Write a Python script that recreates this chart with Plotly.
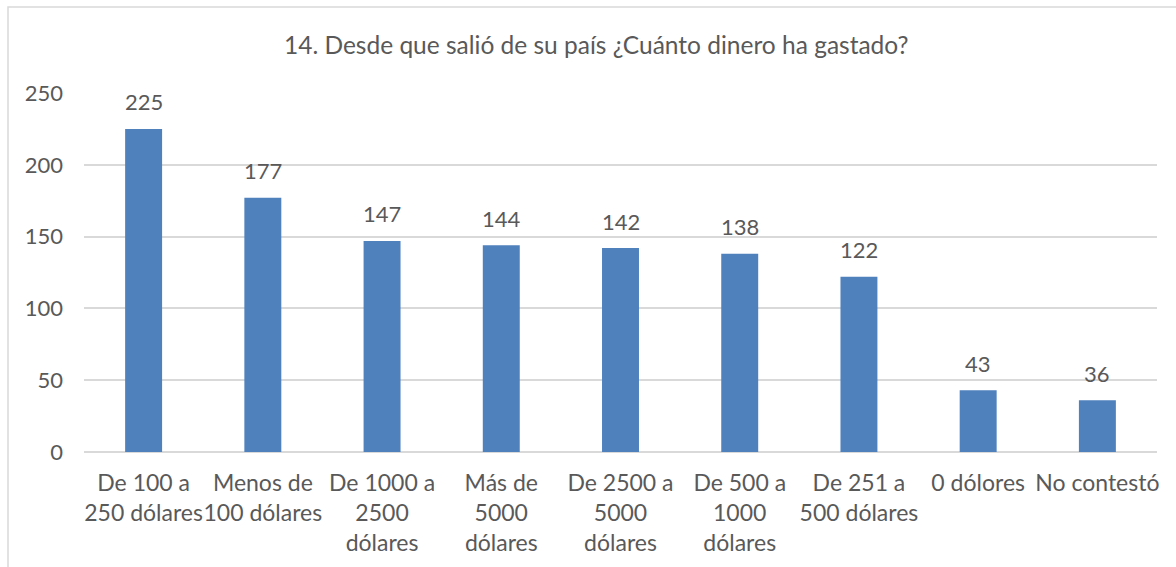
import plotly.graph_objects as go

# Survey responses: money spent since leaving home country
categories = [
    "De 100 a<br>250 dólares",
    "Menos de<br>100 dólares",
    "De 1000 a<br>2500<br>dólares",
    "Más de<br>5000<br>dólares",
    "De 2500 a<br>5000<br>dólares",
    "De 500 a<br>1000<br>dólares",
    "De 251 a<br>500 dólares",
    "0 dólores",
    "No contestó",
]
counts = [225, 177, 147, 144, 142, 138, 122, 43, 36]

title_text = "14. Desde que salió de su país ¿Cuánto dinero ha gastado?"

FONT = "Lato"
TEXT_COLOR = "#595959"
BAR_COLOR = "#4F81BD"
GRID_COLOR = "#D9D9D9"

fig = go.Figure()
fig.add_trace(go.Bar(
    x=list(range(len(categories))),
    y=counts,
    marker=dict(color=BAR_COLOR, line=dict(width=0)),
    width=0.31,
    hoverinfo="skip",
))

# value labels above each bar
for i, v in enumerate(counts):
    fig.add_annotation(
        x=i, y=v, xref="x", yref="y",
        text=str(v), showarrow=False,
        yanchor="middle", yshift=27,
        font=dict(family=FONT, size=22, color=TEXT_COLOR),
    )

fig.update_layout(
    width=1176, height=567,
    margin=dict(l=84, r=19, t=93, b=115, autoexpand=False),
    paper_bgcolor="white", plot_bgcolor="white",
    showlegend=False,
    title=dict(
        text=title_text, x=0.507, xanchor="center", y=1 - 45 / 567, yanchor="middle",
        font=dict(family=FONT, size=24.5, color=TEXT_COLOR),
    ),
    xaxis=dict(
        tickmode="array",
        tickvals=list(range(len(categories))),
        ticktext=categories,
        range=[-0.5, len(categories) - 0.5],
        showgrid=False, zeroline=False, showline=False,
        ticks="", ticklabelstandoff=15, tickangle=0, automargin=False,
        tickfont=dict(family=FONT, size=23, color=TEXT_COLOR),
    ),
    yaxis=dict(
        range=[0, 250], dtick=50,
        showgrid=True, gridcolor=GRID_COLOR, gridwidth=2,
        zeroline=True, zerolinecolor=GRID_COLOR, zerolinewidth=2,
        showline=False, ticks="", ticklabelstandoff=20, automargin=False,
        tickfont=dict(family=FONT, size=22, color=TEXT_COLOR),
    ),
    shapes=[dict(
        type="rect", xref="paper", yref="paper",
        x0=-76 / 1073, x1=1.2, y0=-0.4, y1=1 + 86 / 359,
        line=dict(color=GRID_COLOR, width=1.5), fillcolor="rgba(0,0,0,0)",
        layer="below",
    )],
)

fig.write_html("out.html")
